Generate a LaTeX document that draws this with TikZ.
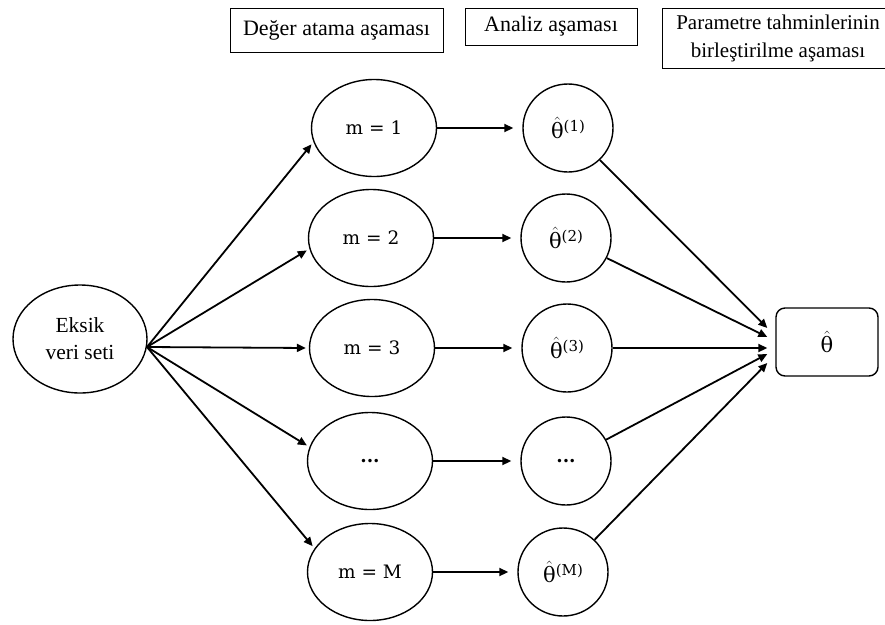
\documentclass[tikz,border=0pt]{standalone}
\usepackage{amsmath}
\usepackage{fontspec}
\setmainfont{Liberation Serif}
\newfontfamily\dvs{DejaVu Serif}
\usetikzlibrary{shapes.geometric,arrows.meta}
\newcommand{\thh}[1]{\(\hat{\text{θ}}\)\raisebox{7pt}{\fontsize{15}{15}\selectfont(#1)}}
\begin{document}
\begin{tikzpicture}[x=1pt,y=-1pt,
  every node/.style={font=\fontsize{21.5}{27}\selectfont},
  hdr/.style={draw,line width=0.9pt,inner sep=0pt,align=center,font=\fontsize{22}{28}\selectfont},
  ell/.style={ellipse,draw,line width=1.4pt,inner sep=0pt,minimum width=125pt,minimum height=97pt,font=\dvs\fontsize{18.5}{22}\selectfont},
  circ/.style={ellipse,draw,line width=1.4pt,inner sep=0pt,minimum width=90pt,minimum height=88pt,font=\dvs\fontsize{21}{24}\selectfont},
  arr/.style={line width=1.8pt,-{Triangle[length=9pt,width=8pt]}}]
\useasboundingbox (0,0) rectangle (885,624);
% headers
\node[hdr,minimum width=213pt,minimum height=44pt] (h1) at (336.5,30) {Değer atama aşaması};
\node[hdr,minimum width=172pt,minimum height=37pt] (h2) at (551,26.5) {Analiz aşaması};
\node[hdr,minimum width=232pt,minimum height=60pt,font=\fontsize{21}{28}\selectfont] (h3) at (778,38) {Parametre tahminlerinin\\birleştirilme aşaması};
% source
\node[ell,minimum width=134pt,minimum height=108pt,align=center,font=\fontsize{21.5}{27}\selectfont] (src) at (80,339) {Eksik\\veri seti};
\coordinate (o) at (147,347);
% imputations
\node[ell] (m1) at (374,128) {m = 1};
\node[ell] (m2) at (371,238) {m = 2};
\node[ell] (m3) at (372,348) {m = 3};
\node[ell] (m4) at (370,461) {\textbf{...}};
\node[ell] (m5) at (370,572) {m = M};
% estimates
\node[circ] (t1) at (568,128) {\thh{1}};
\node[circ] (t2) at (566,238) {\thh{2}};
\node[circ] (t3) at (567,348) {\thh{3}};
\node[circ,font=\dvs\fontsize{18.5}{22}\selectfont] (t4) at (566,461) {\textbf{...}};
\node[circ] (t5) at (563,572) {\thh{M}};
% result
\node[draw,rounded corners=9pt,line width=1.4pt,minimum width=102pt,minimum height=68pt,font=\dvs\fontsize{21}{24}\selectfont] (r) at (827,342) {\(\hat{\text{θ}}\)};
% arrows from source
\draw[arr,shorten >=3pt] (o) -- (m1.193);
\draw[arr,shorten >=3pt] (o) -- (m2.190);
\draw[arr,shorten >=3pt] (o) -- (m3.west);
\draw[arr,shorten >=3pt] (o) -- (m4.167);
\draw[arr,shorten >=3pt] (o) -- (m5.157);
% arrows m -> theta
\foreach \i in {1,...,5} {
  \draw[arr,shorten >=9pt] (m\i.east) -- (m\i.east -| t\i.west);
}
% arrows theta -> result
\draw[arr] (t1) -- ([xshift=-8pt,yshift=14pt]r.west);
\draw[arr] (t2) -- ([xshift=-8pt,yshift=5pt]r.west);
\draw[arr] (t3.east) -- ([xshift=-8pt,yshift=0pt]r.west |- t3.east);
\draw[arr] (t4) -- ([xshift=-8pt,yshift=-12pt]r.west);
\draw[arr] (t5) -- ([xshift=-8pt,yshift=-21pt]r.west);
\end{tikzpicture}
\end{document}
